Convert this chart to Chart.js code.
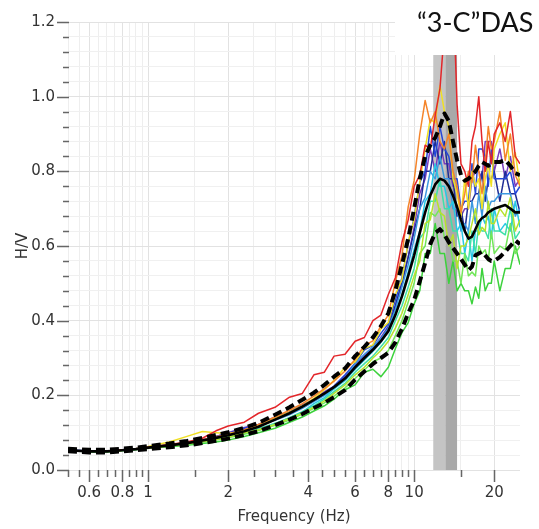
<!DOCTYPE html>
<html lang="en">
<head>
<meta charset="UTF-8">
<title>H/V spectral ratio</title>
<script src="https://cdn.jsdelivr.net/npm/chart.js"></script>
<style>
    html, body { margin: 0; padding: 0; background: #fff; }
    #wrap { width: 539px; height: 529px; position: relative; }
</style>
</head>
<body>
<div id="wrap"><canvas id="hv"></canvas></div>
<script>
// frequency samples (Hz)
const freqs = [0.5, 0.6, 0.7, 0.8, 0.9, 1.0,
    1.2, 1.4, 1.6, 1.8, 2.0,
    2.3, 2.6, 3.0, 3.4, 3.8, 4.2, 4.6, 5.0,
    5.5, 6.0, 6.5, 7.0, 7.5, 8.0, 8.5, 9.0, 9.5, 10,
    10.5, 11, 11.5, 12, 12.5, 13, 13.5, 14, 14.5, 15, 15.5, 16, 16.5, 17, 17.5, 18, 18.5, 19, 19.5, 20,
    21, 22, 23, 24, 25];

// individual H/V curves
const red = [.053,.050,.051,.054,.057,.061, .068,.075,.085,.105,.118, .128,.152,.168,.195,.205,.255,.262,.305,
    .310,.345,.355,.400,.415,.470,.515,.610,.670,.760,
    .790,.870,.860,.950,1.02,1.18,1.30,1.30,.980,.820,.800,.760,.880,.920,1.00,.880,.800,.880,.820,.900,
    .930,.880,.960,.840,.820];
const orange = [.053,.050,.050,.053,.056,.060, .067,.074,.081,.089,.096, .108,.122,.142,.160,.178,.198,.218,.238,
    .265,.296,.334,.346,.386,.415,.505,.575,.705,.775,
    .900,.990,.930,.960,.880,.860,.900,.800,.760,.690,.740,.800,.770,.870,.800,.740,.820,.920,.860,.880,
    .960,.830,.900,.790,.760];
const yellow = [.053,.050,.050,.053,.057,.063, .075,.090,.103,.100,.098, .106,.118,.138,.155,.172,.192,.215,.240,
    .275,.290,.325,.335,.378,.395,.470,.510,.610,.670,
    .770,.860,.940,.930,1.03,.960,.920,.780,.740,.680,.780,.700,.800,.760,.780,.700,.780,.820,.760,.860,
    .900,.930,.800,.850,.760];
const yellowGreen = [.053,.050,.050,.053,.056,.059, .065,.070,.076,.082,.088, .100,.108,.122,.138,.152,.168,.185,.205,
    .228,.255,.275,.300,.320,.345,.380,.420,.470,.520,
    .560,.660,.670,.740,.690,.680,.600,.630,.540,.600,.600,.620,.660,.700,.630,.650,.640,.720,.660,.660,
    .700,.680,.730,.640,.670];
const lime = [.052,.049,.049,.052,.055,.058, .063,.068,.074,.080,.086, .096,.106,.120,.134,.150,.165,.180,.198,
    .220,.245,.268,.290,.300,.320,.360,.400,.450,.500,
    .580,.600,.690,.680,.700,.620,.620,.560,.560,.500,.580,.520,.530,.520,.600,.580,.590,.560,.640,.580,
    .600,.590,.660,.580,.600];
const green = [.052,.049,.049,.052,.055,.058, .062,.066,.071,.075,.080, .090,.100,.112,.128,.142,.158,.172,.190,
    .215,.228,.262,.270,.250,.275,.325,.368,.395,.445,
    .480,.580,.580,.660,.580,.580,.500,.560,.480,.500,.480,.480,.445,.490,.460,.540,.480,.500,.500,.560,
    .480,.540,.540,.600,.550];
const spring = [.052,.049,.049,.052,.055,.059, .064,.070,.076,.082,.089, .099,.110,.125,.140,.156,.172,.190,.210,
    .232,.262,.285,.305,.330,.355,.400,.440,.490,.540,
    .620,.640,.720,.720,.780,.700,.700,.640,.640,.580,.580,.560,.640,.580,.660,.640,.640,.620,.700,.640,
    .640,.630,.700,.620,.640];
const cyan = [.053,.050,.050,.053,.056,.060, .066,.071,.077,.084,.092, .098,.112,.122,.140,.155,.178,.194,.217,
    .240,.270,.295,.318,.342,.372,.420,.470,.530,.590,
    .640,.720,.740,.820,.760,.760,.700,.720,.640,.660,.580,.640,.560,.640,.640,.680,.660,.680,.620,.700,
    .640,.660,.640,.720,.650];
const lightBlue = [.053,.050,.051,.054,.057,.061, .067,.073,.080,.087,.094, .106,.118,.133,.148,.165,.183,.200,.220,
    .245,.285,.310,.330,.352,.380,.430,.490,.550,.620,
    .700,.730,.800,.780,.840,.780,.780,.700,.700,.640,.660,.640,.720,.660,.740,.680,.760,.700,.720,.720,
    .740,.740,.740,.680,.700];
const blue = [.054,.051,.051,.054,.057,.061, .067,.074,.081,.090,.098, .112,.122,.138,.155,.172,.190,.205,.225,
    .255,.286,.322,.334,.366,.392,.455,.515,.605,.675,
    .770,.800,.920,.840,.920,.860,.840,.780,.780,.700,.720,.720,.820,.740,.860,.860,.840,.760,.860,.780,
    .780,.780,.800,.740,.760];
const navy = [.053,.050,.050,.053,.056,.060, .066,.072,.079,.088,.096, .108,.120,.136,.150,.168,.186,.202,.222,
    .248,.278,.302,.325,.350,.382,.440,.500,.570,.640,
    .700,.800,.800,.880,.820,.880,.780,.780,.680,.700,.640,.720,.720,.740,.740,.800,.720,.780,.780,.800,
    .720,.800,.740,.740,.690];
const purple = [.053,.050,.050,.053,.056,.060, .066,.072,.080,.090,.100, .114,.122,.142,.154,.175,.188,.210,.224,
    .250,.282,.305,.328,.355,.385,.440,.500,.570,.650,
    .740,.780,.860,.800,.880,.820,.820,.760,.760,.680,.700,.700,.780,.800,.800,.780,.880,.880,.880,.800,
    .860,.780,.840,.760,.780];

// average and +/- one standard deviation
const meanHV = [.053,.050,.050,.053,.056,.060, .066,.072,.079,.086,.093, .104,.116,.135,.152,.170,.188,.205,.222,
    .245,.275,.300,.322,.345,.372,.415,.465,.520,.575,
    .635,.690,.735,.765,.780,.775,.760,.735,.705,.670,.640,.620,.625,.645,.665,.675,.680,.690,.695,.700,
    .705,.710,.700,.690,.690];
const upperHV = [.057,.054,.054,.057,.060,.064, .071,.078,.086,.094,.101, .113,.126,.148,.168,.188,.207,.228,.250,
    .272,.305,.330,.355,.385,.420,.480,.550,.620,.700,
    .780,.840,.870,.890,.920,.955,.935,.880,.830,.790,.775,.780,.790,.800,.815,.825,.820,.815,.820,.825,
    .825,.830,.815,.795,.790];
const lowerHV = [.050,.047,.047,.050,.053,.056, .061,.066,.072,.078,.084, .094,.104,.120,.135,.150,.166,.180,.195,
    .214,.242,.264,.284,.300,.314,.342,.378,.420,.455,
    .505,.555,.605,.635,.645,.630,.610,.595,.580,.565,.550,.535,.545,.575,.580,.585,.575,.565,.560,.560,
    .570,.585,.600,.615,.605];

const curves = [red, orange, yellow, yellowGreen, lime, green, spring, cyan, lightBlue, blue, navy, purple];
const curveColors = ['#e3262a', '#f5842a', '#f0e024', '#b6e22c', '#72e65a', '#3cd23c',
    '#3ee0a8', '#28c8e4', '#3c98e0', '#2448d8', '#1e2c96', '#7a3cbc'];

// tick positions and labels
const xTicks = [0.5, 0.55, 0.6, 0.65, 0.7, 0.75, 0.8, 0.85, 0.9, 0.95, 1, 1.5, 2, 2.5, 3, 3.5, 4, 4.5, 5,
    5.5, 6, 6.5, 7, 7.5, 8, 8.5, 9, 9.5, 10, 15, 20];
const xLabels = [0.6, 0.8, 1, 2, 4, 6, 8, 10, 20];
const yTicks = [0, 0.04, 0.08, 0.12, 0.16, 0.2, 0.24, 0.28, 0.32, 0.36, 0.4, 0.44, 0.48, 0.52, 0.56, 0.6,
    0.64, 0.68, 0.72, 0.76, 0.8, 0.84, 0.88, 0.92, 0.96, 1.0, 1.04, 1.08, 1.12, 1.16, 1.2];
const yLabels = [0, 0.2, 0.4, 0.6, 0.8, 1.0, 1.2];

// peak frequency band (Hz)
const bandLo = 11.8, bandMid = 13.1, bandHi = 14.5;

const toPoints = vals => freqs.map((f, i) => ({x: f, y: vals[i]}));

const datasets = [
    {data: toPoints(meanHV), borderColor: '#000', borderWidth: 2.6, order: 0},
    {data: toPoints(upperHV), borderColor: '#000', borderWidth: 4, borderDash: [9, 5], order: 0},
    {data: toPoints(lowerHV), borderColor: '#000', borderWidth: 4, borderDash: [9, 5], order: 0}
];
curves.forEach((c, i) => {
    datasets.push({data: toPoints(c), borderColor: curveColors[i], borderWidth: 1.5, order: 1});
});

// gray band behind the curves
const bandPlugin = {
    id: 'band',
    beforeDatasetsDraw(chart) {
        const {ctx, chartArea: a, scales: {x}} = chart;
        const x0 = x.getPixelForValue(bandLo);
        const x1 = x.getPixelForValue(bandMid);
        const x2 = x.getPixelForValue(bandHi);
        ctx.save();
        ctx.fillStyle = '#c4c4c4';
        ctx.fillRect(x0, a.top, x1 - x0, a.bottom - a.top);
        ctx.fillStyle = '#a9a9a9';
        ctx.fillRect(x1, a.top, x2 - x1, a.bottom - a.top);
        ctx.restore();
    }
};

// outside tick marks + label box
const decoPlugin = {
    id: 'deco',
    afterDraw(chart) {
        const {ctx, chartArea: a, scales: {x, y}} = chart;
        ctx.save();
        ctx.strokeStyle = '#666';
        ctx.lineWidth = 1.5;
        ctx.beginPath();
        y.ticks.forEach(t => {
            const py = Math.round(y.getPixelForValue(t.value)) + 0.5;
            const len = yLabels.includes(t.value) ? 11 : 5;
            ctx.moveTo(a.left - len, py);
            ctx.lineTo(a.left + 1, py);
        });
        x.ticks.forEach(t => {
            const px = Math.round(x.getPixelForValue(t.value)) + 0.5;
            const len = xLabels.includes(t.value) ? 12 : 7;
            ctx.moveTo(px, a.bottom);
            ctx.lineTo(px, a.bottom + len);
        });
        ctx.stroke();

        ctx.fillStyle = '#fff';
        ctx.fillRect(395, 0, chart.width - 395, 55);
        ctx.fillStyle = '#111';
        ctx.font = '27px Lato, "Open Sans", sans-serif';
        ctx.textBaseline = 'alphabetic';
        ctx.fillText('\u201C3-C\u201DDAS', 417, 32);
        ctx.restore();
    }
};

Chart.defaults.font.family = '"DejaVu Sans", Verdana, sans-serif';
Chart.defaults.font.size = 15;
Chart.defaults.color = '#333';

new Chart(document.getElementById('hv'), {
    type: 'line',
    data: {datasets: datasets},
    options: {
        responsive: true,
        maintainAspectRatio: false,
        animation: false,
        layout: {padding: {left: 0, right: 19, top: 20, bottom: 0}},
        elements: {
            point: {radius: 0},
            line: {tension: 0, borderJoinStyle: 'round'}
        },
        plugins: {legend: {display: false}, tooltip: {enabled: false}},
        scales: {
            x: {
                type: 'logarithmic',
                min: 0.5,
                max: 25,
                afterBuildTicks: s => { s.ticks = xTicks.map(v => ({value: v})); },
                afterFit: s => { s.height = 59; },
                ticks: {
                    autoSkip: false,
                    maxRotation: 0,
                    padding: 14,
                    callback: v => xLabels.includes(v) ? String(v) : ''
                },
                grid: {
                    drawTicks: false,
                    color: c => (c.tick && xLabels.includes(c.tick.value)) ? '#e2e2e2' : '#eeeeee'
                },
                border: {display: false},
                title: {display: true, text: 'Frequency (Hz)', padding: {top: 0, bottom: 3}}
            },
            y: {
                min: 0,
                max: 1.2,
                afterBuildTicks: s => { s.ticks = yTicks.map(v => ({value: v})); },
                afterFit: s => { s.width = 68; },
                ticks: {
                    autoSkip: false,
                    padding: 13,
                    callback: v => yLabels.includes(v) ? v.toFixed(1) : ''
                },
                grid: {
                    drawTicks: false,
                    color: c => (c.tick && yLabels.includes(c.tick.value)) ? '#e2e2e2' : '#f0f0f0'
                },
                border: {display: false},
                title: {display: true, text: 'H/V', padding: {top: 14, bottom: 0}}
            }
        }
    },
    plugins: [bandPlugin, decoPlugin]
});
</script>
</body>
</html>
